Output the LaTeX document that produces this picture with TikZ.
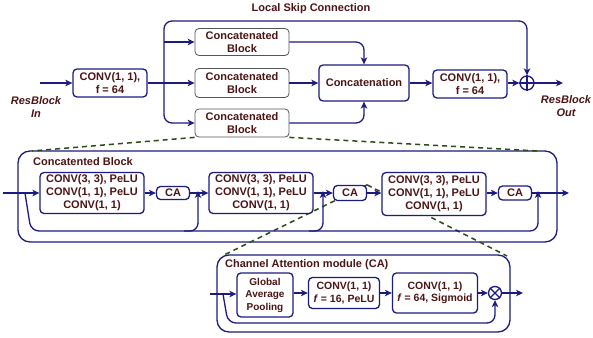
\documentclass[tikz,border=0pt]{standalone}
\usepackage{fontspec}
\setmainfont{Liberation Sans}
\usetikzlibrary{arrows.meta,calc}
\definecolor{lnc}{RGB}{28,28,128}
\definecolor{txc}{RGB}{77,20,20}
\definecolor{dgreen}{RGB}{40,78,20}
\definecolor{gbd}{RGB}{85,85,85}
\pgfdeclarelayer{bg}
\pgfdeclarelayer{dl}
\pgfsetlayers{bg,dl,main}
\tikzset{
  box/.style={draw=lnc, line width=1.3pt, rounded corners=4pt, fill=white, text=txc,
    font=\bfseries\fontsize{11}{13}\selectfont, align=center, inner sep=0pt},
  cbbox/.style={box, draw=gbd, line width=0.8pt, minimum width=94pt},
  smallbox/.style={box, font=\bfseries\fontsize{10.5}{12.5}\selectfont},
  ln/.style={draw=lnc, line width=1.3pt},
  arr/.style={ln, -{Stealth[length=7pt,width=6.5pt,inset=2pt]}},
  grp/.style={draw=lnc, line width=1.3pt, rounded corners=12pt},
  dsh/.style={draw=dgreen, line width=1.5pt, dash pattern=on 5pt off 4pt},
  lbl/.style={text=txc, font=\bfseries\fontsize{11}{13}\selectfont, align=center, inner sep=0pt},
  opc/.style={circle, draw=lnc, line width=1.3pt, fill=white, minimum size=14pt, inner sep=0pt},
}
\begin{document}
\begin{tikzpicture}[x=1pt,y=-1pt]
\useasboundingbox (0,0) rectangle (593,337);

% ---------- top level ----------
\node[lbl] (title) at (311,9) {Local Skip Connection};
\coordinate (in) at (40,83);
\node[box, minimum width=74pt, minimum height=28pt] (conv1) at (110,83) {CONV(1, 1),\\ f = 64};
\node[lbl, font=\bfseries\itshape\fontsize{11}{13}\selectfont] (rin) at (36,107) {ResBlock\\ In};
\node[cbbox, minimum height=27pt] (cb1) at (242,42) {Concatenated\\ Block};
\node[cbbox, minimum height=29pt] (cb2) at (242,83) {Concatenated\\ Block};
\node[cbbox, minimum height=28pt] (cb3) at (242,123) {Concatenated\\ Block};
\node[box, minimum width=90pt, minimum height=36pt] (concat) at (364,83) {Concatenation};
\node[box, minimum width=74pt, minimum height=28pt] (conv2) at (470,84) {CONV(1, 1),\\ f = 64};
\node[opc] (op) at (527,83) {};
\draw[ln] (op.north) -- (op.south) (op.west) -- (op.east);
\coordinate (out) at (563,83);
\node[lbl, font=\bfseries\itshape\fontsize{11}{13}\selectfont] (rout) at (566,106) {ResBlock\\ Out};

\coordinate (j) at (164,83);
\coordinate (sk) at (164,21);
\draw[arr] (in) -- (conv1.west);
\draw[arr] (conv1.east) -- (cb2.west);
\draw[arr, rounded corners=8pt] (j) -- (sk) -| (op.north);
\draw[arr] (cb1.west -| j) -- (cb1.west);
\draw[arr, rounded corners=8pt] (j) |- (cb3.west);
\draw[arr, rounded corners=8pt] (cb1.east) -| (concat.north);
\draw[arr] (cb2.east) -- (concat.west);
\draw[arr, rounded corners=8pt] (cb3.east) -| (concat.south);
\draw[arr] (concat.east) -- (conv2.west |- concat.east);
\draw[arr] (conv2.east |- op.west) -- (op.west);
\draw[arr] (op.east) -- (out);

% ---------- concatenated block ----------
\coordinate (f1nw) at (32,151);
\coordinate (f1ne) at (538,151);
\begin{pgfonlayer}{bg}
\draw[grp, fill=white] (18,151) rectangle (557,242);
\draw[grp, fill=white] (217,255) rectangle (510,332);
\end{pgfonlayer}
\begin{pgfonlayer}{dl}
\draw[dsh] (cb3.south west) -- (f1nw);
\draw[dsh] (cb3.south east) -- (f1ne);
\end{pgfonlayer}
\node[lbl, anchor=west] (t1) at (33,162) {Concatented Block};

\node[box, minimum width=104pt, minimum height=41pt] (A1) at (92,193) {CONV(3, 3), PeLU\\ CONV(1, 1), PeLU\\ CONV(1, 1)};
\node[box, minimum width=33pt, minimum height=13pt] (CA1) at (173,193) {CA};
\node[box, minimum width=104pt, minimum height=41pt] (A2) at (261,193) {CONV(3, 3), PeLU\\ CONV(1, 1), PeLU\\ CONV(1, 1)};
\node[box, minimum width=33pt, minimum height=15pt] (CA2) at (350,193) {CA};
\node[box, minimum width=104pt, minimum height=43pt] (A3) at (434,194) {CONV(3, 3), PeLU\\ CONV(1, 1), PeLU\\ CONV(1, 1)};
\node[box, minimum width=33pt, minimum height=14pt] (CA3) at (515,193) {CA};
\coordinate (in2) at (3,193);
\coordinate (j1) at (25,193);
\coordinate (m1) at (198,193);
\coordinate (m2) at (323,193);
\coordinate (m3) at (538,193);
\coordinate (out2) at (569,193);

% dashed zoom lines of CA (drawn under boxes)
\coordinate (f2nw) at (224,255);
\coordinate (f2ne) at (507,256);
\begin{pgfonlayer}{dl}
\draw[dsh] (CA2.north east) -- (f2nw);
\draw[dsh] (CA2.north east) -- (f2ne);
\end{pgfonlayer}

\draw[arr] (in2) -- (A1.west);
\draw[arr] (A1.east) -- (CA1.west);
\draw[arr] (CA1.east) -- (A2.west);
\draw[arr] (A2.east) -- (CA2.west);
\draw[arr] (CA2.east) -- (A3.west |- CA2.east);
\draw[arr] (A3.east |- CA3.west) -- (CA3.west);
\draw[arr] (CA3.east) -- (out2);
\draw[arr, rounded corners=8pt] (j1) -- (31,231) -| ([yshift=2pt]m3);
\draw[arr, rounded corners=8pt] (184,231) -| ([yshift=2pt]m1);
\draw[arr, rounded corners=8pt] (309,231) -| ([yshift=2pt]m2);

% ---------- channel attention module ----------
\node[lbl, anchor=west] (t2) at (225,265) {Channel Attention module (CA)};
\coordinate (in3) at (210,294);
\coordinate (j3) at (223,294);
\node[smallbox, font=\bfseries\fontsize{10}{12.5}\selectfont, minimum width=56pt, minimum height=44pt] (gap) at (265,295) {Global\\ Average\\ Pooling};
\node[smallbox, minimum width=71pt, minimum height=31pt] (c16) at (344,293) {CONV(1, 1)\\ \textit{f} = 16, PeLU};
\node[smallbox, minimum width=85pt, minimum height=40pt] (c64) at (435,293) {CONV(1, 1)\\ \textit{f} = 64, Sigmoid};
\node[opc, minimum size=13pt] (ot) at (495,293) {};
\draw[ln] (ot.north east) -- (ot.south west) (ot.north west) -- (ot.south east);
\coordinate (out3) at (523,293);

\draw[arr] (in3) -- (gap.west |- in3);
\draw[arr] (gap.east |- c16.west) -- (c16.west);
\draw[arr] (c16.east) -- (c64.west);
\draw[arr] (c64.east) -- (ot.west);
\draw[arr] (ot.east) -- (out3);
\draw[arr, rounded corners=8pt] (j3) -- (228,323) -| (ot.south);
\end{tikzpicture}
\end{document}
